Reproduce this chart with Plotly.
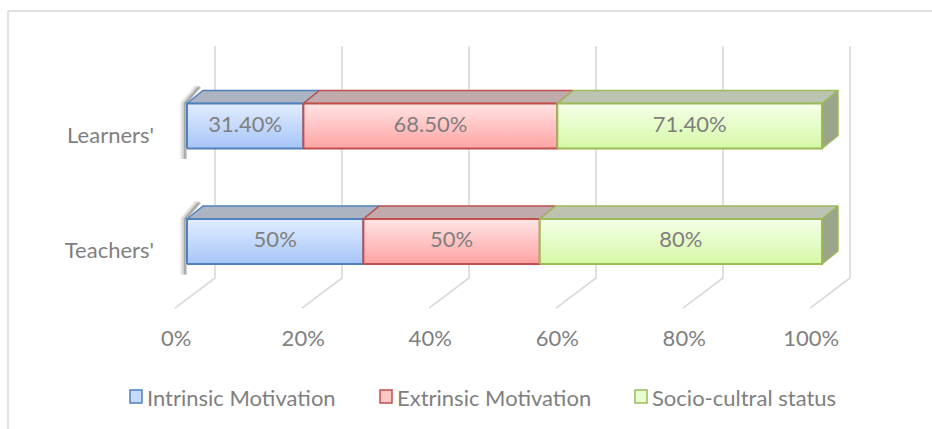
import plotly.graph_objects as go

# ---------------- data ----------------
categories = ["Teachers'", "Learners'"]
series_names = ["Intrinsic Motivation", "Extrinsic Motivation", "Socio-cultral status"]
intrinsic = [50, 31.4]
extrinsic = [50, 68.5]
socio = [80, 71.4]
intrinsic_labels = ["50%", "31.40%"]
extrinsic_labels = ["50%", "68.50%"]
socio_labels = ["80%", "71.40%"]
x_tick_values = [0, 20, 40, 60, 80, 100]
x_tick_labels = ["0%", "20%", "40%", "60%", "80%", "100%"]

series_values = [intrinsic, extrinsic, socio]
series_labels = [intrinsic_labels, extrinsic_labels, socio_labels]

# ---------------- styles ----------------
FONT = "Lato"
TXT = "#7f7f7f"
FS = 22
front_top = ["#e2edfe", "#ffe4e4", "#f5ffe9"]
front_bot = ["#a6c5f8", "#ffa3a3", "#d6f8a6"]
top_face = ["#acb4c1", "#c0aaab", "#bdc3b1"]
edge = ["#4f81bd", "#c0504d", "#9bbb59"]
legend_fill = ["#c6dafb", "#ffc6c6", "#e9fcd2"]
side_face = "#9aa58b"
GRID = "#d9d9d9"

SX, SY = 6.35, 115.5          # px per axis unit
DX, DY = 16 / SX, 13 / SY     # 3-D depth of bars
HALF = 22.5 / SY              # half bar thickness
WALL_DX = 28 / SX             # back wall offset of gridlines
FLOOR_DX = -12 / SX           # front floor offset
Y_WALL_TOP = 1.693
Y_FLOOR_BACK = -0.316
Y_FLOOR_FRONT = -0.576

fig = go.Figure()

# back wall and floor gridlines
for v in x_tick_values:
    fig.add_trace(go.Scatter(
        x=[v + WALL_DX, v + WALL_DX, v + FLOOR_DX],
        y=[Y_WALL_TOP, Y_FLOOR_BACK, Y_FLOOR_FRONT],
        mode="lines", line=dict(color=GRID, width=1.6),
        hoverinfo="skip", showlegend=False))

# normalise to 100 %
totals = [sum(s[i] for s in series_values) for i in range(len(categories))]

for ci, cat in enumerate(categories):
    yc = ci
    yt, yb = yc + HALF, yc - HALF
    # soft shadow on the left side
    for off, op, w in [(-0.75, 0.07, 5), (-0.5, 0.14, 4), (-0.25, 0.26, 3)]:
        fig.add_trace(go.Scatter(
            x=[off + DX * 0.9, off, off],
            y=[yt + DY * 1.3, yt, yb - 0.09],
            mode="lines", line=dict(color=f"rgba(40,40,40,{op})", width=w),
            hoverinfo="skip", showlegend=False))
    start = 0.0
    segs = []
    for si, s in enumerate(series_values):
        w = s[ci] / totals[ci] * 100
        segs.append((start, start + w))
        start += w
    # top faces
    for si, (x0, x1) in enumerate(segs):
        fig.add_trace(go.Scatter(
            x=[x0, x1, x1 + DX, x0 + DX, x0],
            y=[yt, yt, yt + DY, yt + DY, yt],
            fill="toself", fillcolor=top_face[si],
            mode="lines", line=dict(color=edge[si], width=1.5),
            hoverinfo="skip", showlegend=False))
    # right side face of last segment
    xe = segs[-1][1]
    fig.add_trace(go.Scatter(
        x=[xe, xe + DX, xe + DX, xe, xe],
        y=[yt, yt + DY, yb + DY, yb, yt],
        fill="toself", fillcolor=side_face,
        mode="lines", line=dict(color=edge[-1], width=1.5),
        hoverinfo="skip", showlegend=False))
    # front faces with gradient
    for si, (x0, x1) in enumerate(segs):
        fig.add_trace(go.Scatter(
            x=[x0, x1, x1, x0, x0],
            y=[yb, yb, yt, yt, yb],
            fill="toself",
            fillgradient=dict(type="vertical",
                              colorscale=[[0, front_bot[si]], [1, front_top[si]]]),
            mode="lines", line=dict(color=edge[si], width=2),
            name=series_names[si], hoverinfo="skip", showlegend=False))
    # value labels
    fig.add_trace(go.Scatter(
        x=[(a + b) / 2 for a, b in segs],
        y=[yc] * len(segs),
        text=[series_labels[si][ci] for si in range(len(series_values))],
        mode="text", textposition="middle center",
        textfont=dict(family=FONT, size=FS, color=TXT),
        hoverinfo="skip", showlegend=False))

# ---------------- layout ----------------
L, R, T, B = 160, 72, 40, 109
W, H = 932, 429
PW, PH = W - L - R, H - T - B


def px_x(p):
    return (p - L) / PW


def px_y(p):
    return (H - B - p) / PH


shapes = [dict(type="rect", xref="paper", yref="paper",
               x0=px_x(8), x1=px_x(945), y0=px_y(445), y1=px_y(11),
               line=dict(color="#d9d9d9", width=1.5), layer="below")]
annotations = []
legend_sq_x = [130, 380, 635]
for i, name in enumerate(series_names):
    x0 = legend_sq_x[i]
    shapes.append(dict(type="rect", xref="paper", yref="paper",
                       x0=px_x(x0), x1=px_x(x0 + 12), y0=px_y(403), y1=px_y(390),
                       fillcolor=legend_fill[i], line=dict(color=edge[i], width=1.5)))
    annotations.append(dict(xref="paper", yref="paper", x=px_x(x0 + 15), y=px_y(397),
                            xanchor="left", yanchor="middle", text=name, showarrow=False,
                            font=dict(family=FONT, size=FS, color=TXT)))

x_min = -(187 - L) / SX
y_max = 1 + (126 - T) / SY
fig.update_layout(
    width=W, height=H,
    margin=dict(l=L, r=R, t=T, b=B),
    plot_bgcolor="white", paper_bgcolor="white",
    showlegend=False,
    font=dict(family=FONT, size=FS, color=TXT),
    shapes=shapes, annotations=annotations,
    xaxis=dict(range=[x_min, x_min + PW / SX], showgrid=False, zeroline=False,
               showline=False, ticks="", ticklabelstandoff=3,
               tickvals=[v - 1.7 for v in x_tick_values], ticktext=x_tick_labels,
               tickfont=dict(family=FONT, size=FS, color=TXT)),
    yaxis=dict(range=[y_max - PH / SY, y_max], showgrid=False, zeroline=False,
               showline=False, ticks="", ticklabelstandoff=5,
               tickvals=[i - 0.078 for i in range(len(categories))], ticktext=categories,
               tickfont=dict(family=FONT, size=FS, color=TXT)),
)

fig.write_html("out.html", config={"displayModeBar": False},
               post_script="document.body.style.margin='0px';")
